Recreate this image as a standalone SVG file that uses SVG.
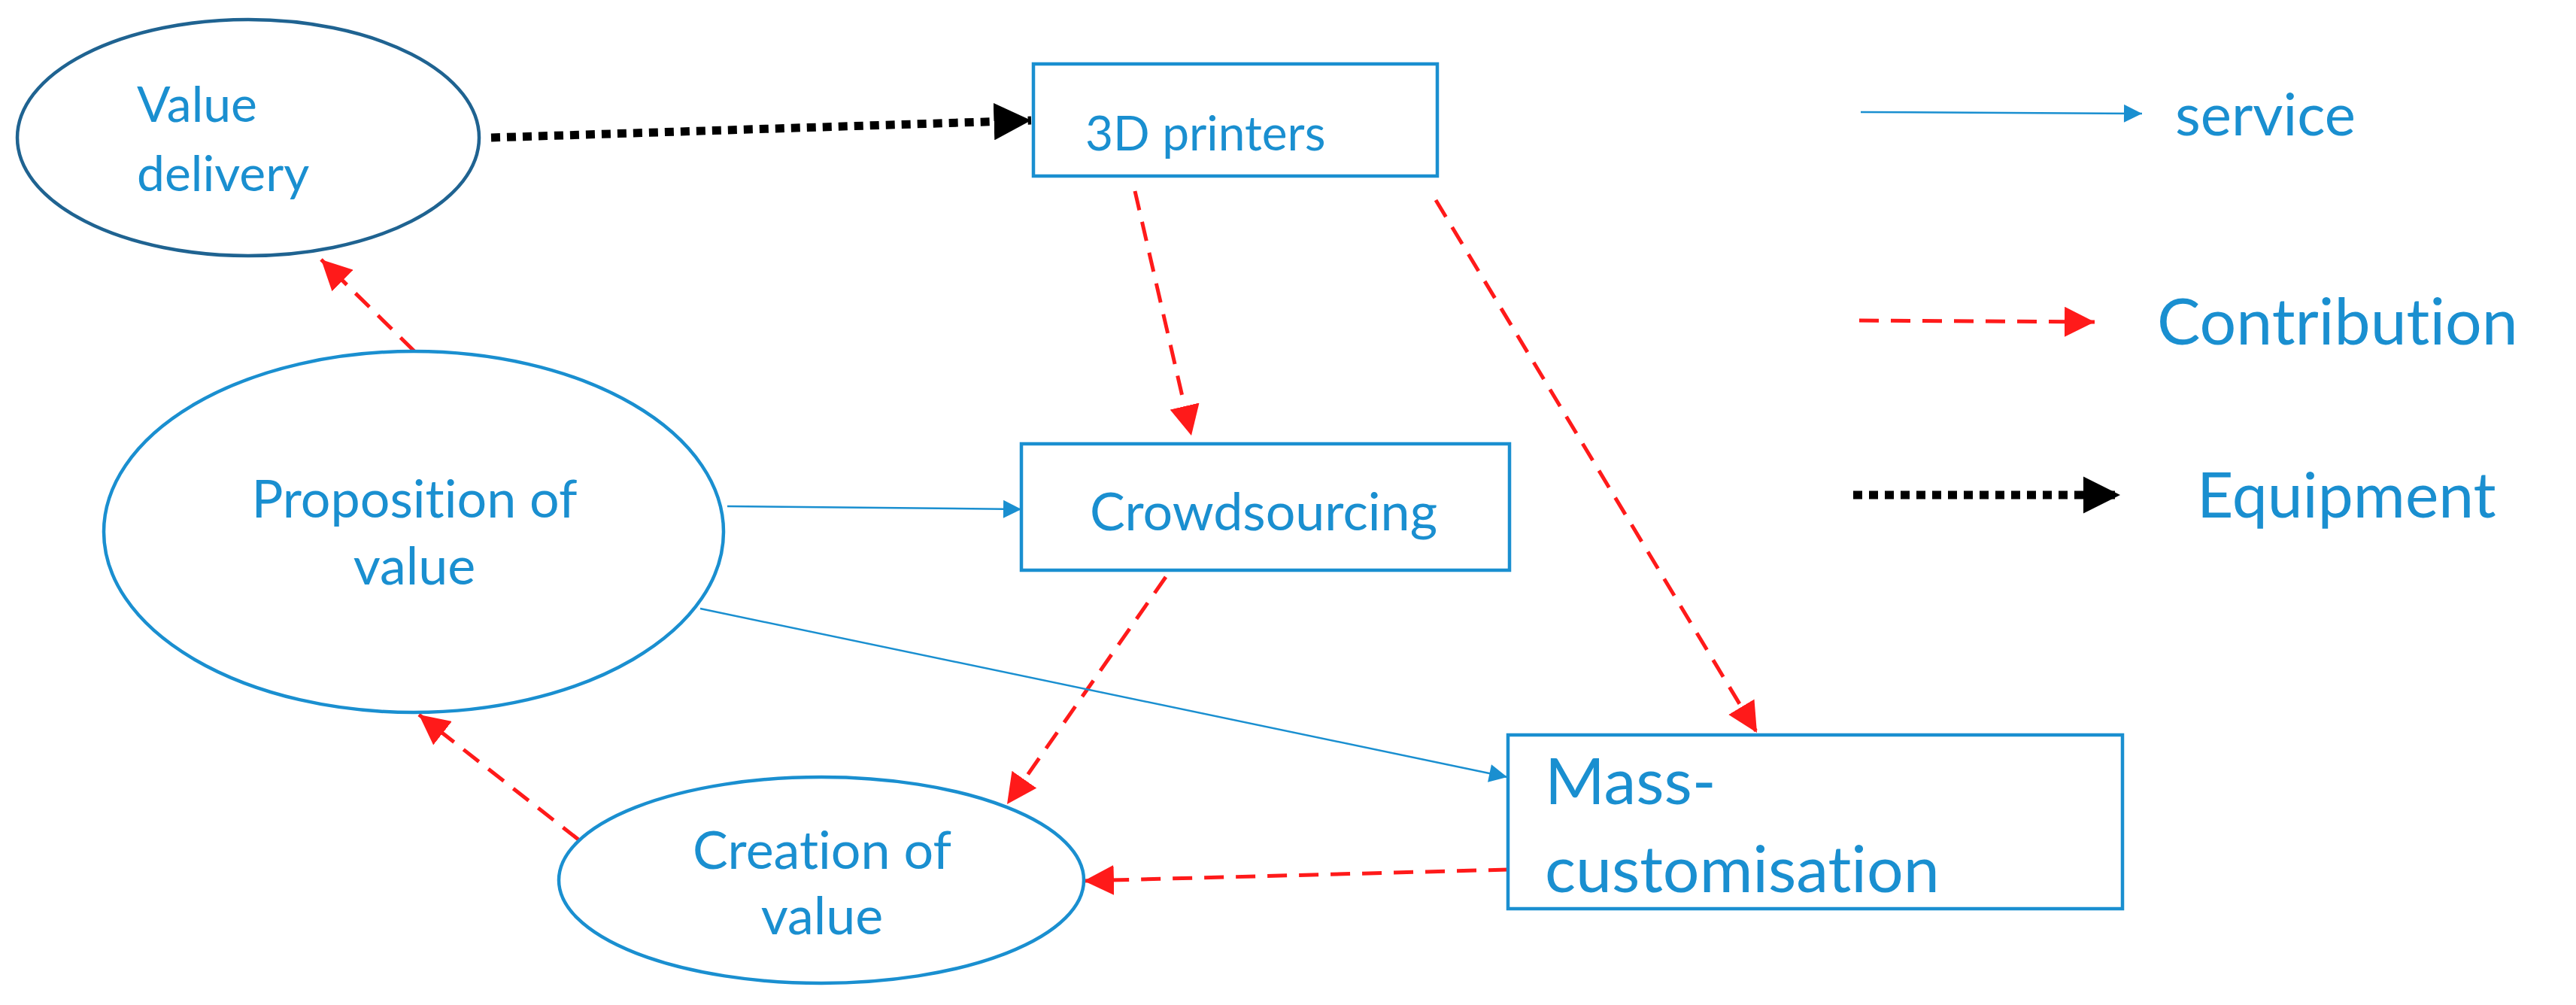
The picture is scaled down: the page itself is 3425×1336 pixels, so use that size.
<svg xmlns="http://www.w3.org/2000/svg" width="3425" height="1336" viewBox="0 0 3425 1336">
<style>
.n{fill:#fff;stroke:#1a8fd0;stroke-width:4.5}
.t{font-family:Lato,"Open Sans",sans-serif;fill:#1a8fd0;font-variant-ligatures:none}
.s{stroke:#1a8fd0;stroke-width:2.5;fill:none}
.c{stroke:#ff1a1a;stroke-width:5;stroke-dasharray:26 16;fill:none}
.e{stroke:#000;stroke-width:11;stroke-dasharray:12 9;fill:none}
</style>
<defs>
<marker id="ab" viewBox="0 0 10 10" refX="10" refY="5" markerWidth="30" markerHeight="24" markerUnits="userSpaceOnUse" orient="auto"><path d="M0,0L10,5L0,10z" fill="#1a8fd0"/></marker>
<marker id="ar" viewBox="0 0 10 10" refX="10" refY="5" markerWidth="8" markerHeight="8" orient="auto"><path d="M0,0L10,5L0,10z" fill="#ff1a1a"/></marker>
<marker id="ak" viewBox="0 0 10 10" refX="10" refY="5" markerWidth="4.5" markerHeight="4.5" orient="auto"><path d="M0,0L10,5L0,10z" fill="#000"/></marker>
</defs>
<rect width="3425" height="1336" fill="#fff"/>
<g id="connectors">
<path class="e" d="M653,183L1371,160" marker-end="url(#ak)"/>
<path class="c" d="M1509,254L1584,579" marker-end="url(#ar)"/>
<path class="c" d="M1909,266L2336,974" marker-end="url(#ar)"/>
<path class="c" d="M1550,767L1339,1069" marker-end="url(#ar)"/>
<path class="c" d="M551,467L427,345" marker-end="url(#ar)"/>
<path class="c" d="M769,1116L557,950" marker-end="url(#ar)"/>
<path class="c" d="M2005,1156L1441,1171" marker-end="url(#ar)"/>
<path class="s" d="M967,673L1358,677" marker-end="url(#ab)"/>
<path class="s" d="M931,809L2004,1033" marker-end="url(#ab)"/>
</g>
<g id="value-delivery"><ellipse class="n" style="stroke:#1f6391" cx="330" cy="183" rx="307" ry="157"/>
<text class="t" x="182" y="162" font-size="66">Value</text><text class="t" x="182" y="254" font-size="66">delivery</text></g>
<g id="printers"><rect class="n" x="1374" y="85" width="537" height="149"/>
<text class="t" x="1443" y="200" font-size="64">3D printers</text></g>
<g id="proposition"><ellipse class="n" cx="550" cy="707" rx="412" ry="240"/>
<text class="t" x="551" y="688" font-size="70" text-anchor="middle">Proposition of</text><text class="t" x="551" y="777" font-size="70" text-anchor="middle">value</text></g>
<g id="crowdsourcing"><rect class="n" x="1358" y="590" width="649" height="168"/>
<text class="t" x="1680" y="705" font-size="70" text-anchor="middle">Crowdsourcing</text></g>
<g id="creation"><ellipse class="n" cx="1092" cy="1170" rx="349" ry="137"/>
<text class="t" x="1093" y="1155" font-size="70" text-anchor="middle">Creation of</text><text class="t" x="1093" y="1242" font-size="70" text-anchor="middle">value</text></g>
<g id="mass"><rect class="n" x="2005" y="977" width="817" height="231"/>
<text class="t" x="2054" y="1069" font-size="86">Mass-</text><text class="t" x="2054" y="1186" font-size="86">customisation</text></g>
<g id="legend">
<path class="s" d="M2474,149L2848,151" marker-end="url(#ab)"/>
<text class="t" x="2892" y="180" font-size="78">service</text>
<path class="c" d="M2472,426L2785,428" marker-end="url(#ar)"/>
<text class="t" x="2868" y="458" font-size="86">Contribution</text>
<path class="e" d="M2464,658L2819,658" marker-end="url(#ak)"/>
<text class="t" x="2921" y="688" font-size="84">Equipment</text>
</g>
</svg>
